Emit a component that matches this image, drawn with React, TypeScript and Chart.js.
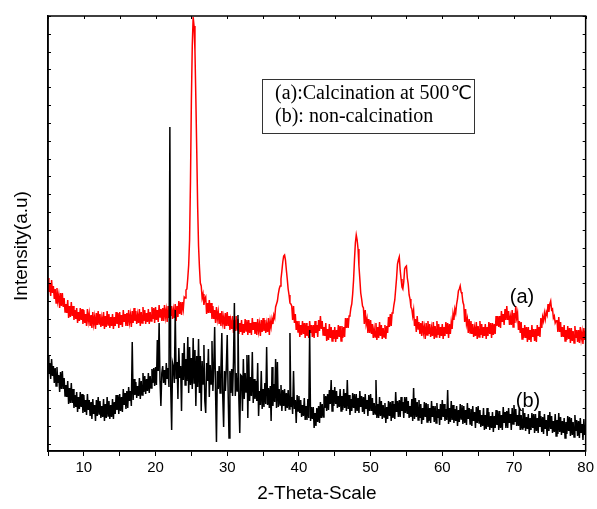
import React, { useEffect, useRef } from 'react';
import { Chart, registerables } from 'chart.js';

Chart.register(...registerables);

// 2-theta grid: 5.000 to 80.000 in 0.125 degree steps (one row per degree)
const THETA_START = 5;
const THETA_STEP = 0.125;

// (a) calcination at 500 C  (intensity, a.u.)
const calcined = [
  173, 159, 168, 155, 171, 158, 165, 152,
  162, 148, 163, 150, 156, 143, 158, 145,
  158, 144, 153, 139, 147, 138, 151, 133,
  145, 134, 149, 135, 145, 131, 141, 132,
  143, 128, 139, 130, 143, 131, 142, 127,
  141, 128, 137, 125, 142, 130, 137, 125,
  136, 123, 139, 127, 134, 122, 138, 126,
  140, 127, 137, 124, 133, 125, 139, 122,
  135, 124, 140, 126, 137, 123, 134, 125,
  137, 122, 134, 125, 139, 127, 138, 123,
  139, 126, 136, 124, 141, 129, 137, 125,
  138, 125, 141, 129, 136, 124, 140, 128,
  143, 130, 140, 127, 136, 128, 142, 125,
  139, 128, 144, 130, 141, 127, 138, 129,
  142, 127, 139, 130, 144, 132, 143, 128,
  144, 131, 141, 129, 146, 134, 142, 130,
  143, 130, 146, 134, 141, 129, 145, 133,
  148, 135, 145, 132, 141, 133, 147, 130,
  145, 134, 150, 137, 149, 136, 149, 142,
  154, 153, 161, 162, 173, 186, 211, 270,
  350, 405, 434, 425, 400, 352, 300, 245,
  205, 184, 168, 165, 153, 157, 146, 152,
  154, 137, 148, 138, 151, 138, 148, 132,
  145, 132, 141, 128, 144, 132, 139, 127,
  138, 125, 140, 128, 134, 122, 138, 125,
  139, 125, 135, 121, 130, 122, 135, 118,
  131, 120, 135, 121, 132, 117, 128, 119,
  131, 116, 127, 118, 132, 120, 131, 116,
  131, 118, 128, 116, 133, 121, 129, 117,
  129, 116, 132, 120, 127, 115, 131, 119,
  133, 120, 131, 118, 127, 119, 133, 116,
  130, 124, 132, 127, 136, 133, 144, 147,
  150, 157, 162, 165, 172, 180, 189, 195,
  196, 191, 181, 172, 162, 156, 148, 147,
  145, 131, 145, 128, 137, 121, 130, 119,
  130, 114, 126, 116, 130, 117, 128, 113,
  128, 115, 125, 113, 130, 118, 126, 114,
  126, 113, 130, 118, 126, 114, 131, 120,
  135, 122, 130, 116, 124, 115, 128, 110,
  122, 111, 127, 113, 124, 110, 121, 112,
  124, 109, 121, 112, 126, 114, 125, 110,
  125, 113, 124, 114, 133, 123, 133, 123,
  135, 136, 143, 147, 157, 171, 191, 208,
  216, 211, 202, 185, 172, 158, 152, 145,
  143, 127, 141, 127, 132, 118, 132, 118,
  131, 117, 127, 113, 122, 114, 128, 111,
  124, 113, 129, 115, 126, 112, 123, 114,
  126, 112, 125, 118, 134, 124, 137, 125,
  138, 139, 146, 151, 162, 173, 187, 191,
  194, 181, 172, 164, 162, 169, 182, 184,
  185, 173, 167, 156, 152, 144, 142, 135,
  141, 125, 132, 119, 135, 122, 129, 117,
  128, 115, 130, 118, 124, 112, 128, 116,
  130, 117, 127, 114, 123, 115, 129, 112,
  125, 114, 130, 116, 127, 113, 124, 115,
  127, 112, 124, 115, 129, 117, 128, 113,
  127, 117, 129, 122, 137, 131, 142, 138,
  147, 152, 160, 162, 165, 159, 157, 149,
  146, 129, 142, 127, 132, 118, 132, 118,
  130, 117, 127, 114, 123, 115, 129, 112,
  125, 114, 130, 116, 127, 113, 124, 115,
  127, 112, 124, 115, 129, 117, 128, 113,
  128, 116, 127, 117, 135, 125, 135, 124,
  135, 123, 140, 129, 137, 126, 142, 131,
  145, 131, 140, 126, 134, 126, 141, 124,
  138, 128, 145, 133, 138, 121, 130, 118,
  129, 112, 123, 113, 126, 113, 124, 109,
  124, 111, 121, 109, 126, 114, 122, 110,
  122, 109, 126, 115, 124, 114, 133, 123,
  134, 130, 138, 132, 139, 136, 147, 139,
  147, 150, 141, 142, 133, 135, 128, 130,
  131, 119, 134, 119, 129, 114, 124, 114,
  126, 110, 121, 111, 125, 112, 123, 108,
  123, 110, 120, 108, 125, 113, 121, 109,
  121, 108, 124, 112, 119, 107, 123, 111,
  120,
];

// (b) non-calcination (intensity, a.u.)
const nonCalcined = [
  95, 77, 88, 72, 92, 75, 85, 68,
  83, 65, 84, 68, 76, 59, 79, 62,
  80, 62, 73, 55, 66, 54, 70, 47,
  63, 48, 68, 48, 62, 43, 56, 44,
  59, 39, 54, 42, 59, 44, 57, 38,
  56, 39, 51, 36, 57, 41, 51, 35,
  49, 32, 52, 37, 46, 30, 51, 35,
  54, 37, 50, 33, 45, 34, 52, 30,
  47, 33, 54, 35, 50, 32, 46, 34,
  52, 32, 49, 37, 56, 41, 56, 37,
  57, 40, 54, 39, 62, 46, 58, 42,
  60, 43, 64, 50, 60, 45, 109, 51,
  72, 56, 69, 53, 65, 55, 73, 52,
  70, 56, 78, 59, 75, 57, 72, 60,
  78, 58, 75, 63, 82, 68, 83, 65,
  84, 66, 111, 80, 128, 70, 45, 78,
  85, 68, 81, 66, 88, 72, 83, 64,
  324, 62, 21, 88, 84, 68, 141, 72,
  89, 52, 103, 73, 85, 40, 98, 71,
  108, 66, 92, 70, 114, 58, 104, 66,
  93, 62, 113, 68, 101, 45, 95, 64,
  112, 58, 95, 40, 90, 67, 106, 50,
  38, 88, 70, 102, 54, 86, 67, 110,
  60, 84, 124, 58, 9, 80, 62, 85,
  58, 83, 118, 55, 24, 80, 60, 84,
  116, 60, 13, 80, 58, 82, 55, 90,
  148, 55, 78, 60, 136, 52, 18, 76,
  75, 40, 92, 52, 78, 59, 96, 33,
  96, 50, 74, 55, 99, 48, 72, 52,
  70, 50, 88, 35, 60, 46, 80, 42,
  62, 44, 68, 47, 104, 46, 63, 43,
  65, 30, 84, 45, 67, 49, 92, 43,
  89, 44, 62, 46, 66, 40, 61, 45,
  62, 40, 58, 43, 61, 42, 118, 44,
  54, 37, 80, 42, 51, 28, 56, 40,
  55, 38, 51, 34, 46, 35, 53, 31,
  45, 31, 52, 33, 121, 30, 44, 32,
  44, 23, 38, 25, 43, 29, 45, 28,
  49, 33, 47, 34, 57, 43, 55, 40,
  57, 41, 61, 47, 71, 40, 61, 45,
  64, 47, 60, 43, 55, 44, 62, 40,
  55, 41, 62, 43, 58, 40, 71, 42,
  56, 36, 52, 40, 58, 43, 57, 38,
  57, 40, 53, 38, 60, 44, 55, 39,
  54, 37, 57, 42, 51, 35, 56, 40,
  57, 40, 53, 36, 48, 37, 71, 33,
  47, 33, 54, 35, 50, 32, 46, 34,
  48, 28, 44, 32, 50, 35, 49, 30,
  50, 33, 47, 32, 59, 39, 50, 34,
  51, 34, 54, 40, 49, 33, 54, 38,
  54, 37, 50, 33, 45, 34, 52, 30,
  63, 32, 53, 34, 49, 31, 51, 33,
  47, 27, 43, 31, 49, 34, 48, 29,
  47, 30, 43, 28, 50, 34, 45, 29,
  45, 28, 48, 33, 42, 26, 47, 31,
  51, 34, 47, 30, 42, 31, 61, 27,
  43, 29, 50, 31, 46, 28, 42, 30,
  45, 25, 41, 29, 47, 32, 46, 27,
  45, 28, 41, 26, 48, 32, 43, 27,
  42, 25, 45, 30, 39, 23, 44, 28,
  45, 28, 41, 24, 36, 25, 43, 21,
  36, 22, 43, 24, 39, 21, 35, 23,
  39, 19, 35, 23, 41, 26, 40, 21,
  40, 23, 36, 21, 44, 28, 39, 23,
  40, 23, 43, 28, 37, 21, 43, 27,
  46, 29, 42, 25, 36, 25, 43, 21,
  36, 22, 43, 23, 38, 20, 34, 22,
  37, 17, 33, 21, 38, 23, 37, 18,
  37, 20, 33, 18, 40, 24, 35, 19,
  34, 17, 37, 22, 31, 15, 36, 20,
  39, 22, 35, 18, 30, 19, 37, 15,
  31, 17, 38, 19, 34, 16, 30, 18,
  33, 13, 29, 17, 35, 20, 34, 15,
  33, 16, 29, 14, 36, 20, 31, 15,
  30, 13, 33, 18, 27, 11, 32, 16,
  23,
];

const X_MIN = 5;
const X_MAX = 80;
const X_LABELED = [10, 20, 30, 40, 50, 60, 70, 80];
const Y_MIN = 0;
const Y_MAX = 435;
const Y_TICK_STEP = 17.83;

const X_TITLE = '2-Theta-Scale';
const Y_TITLE = 'Intensity(a.u)';
const LEGEND_LINE_A = '(a):Calcination at 500';
const LEGEND_UNIT_A = '℃';
const LEGEND_LINE_B = '(b): non-calcination';
const LABEL_A = '(a)';
const LABEL_B = '(b)';

const toPoints = (arr: number[]) =>
  arr.map((v, i) => ({ x: THETA_START + i * THETA_STEP, y: v }));

const SANS = "'Liberation Sans', Arial, sans-serif";
const SERIF = "'Liberation Serif', 'Times New Roman', serif";

const framePlugin = {
  id: 'frameAndNotes',
  afterDraw(chart: any) {
    const { ctx, chartArea, scales } = chart;
    const { left, right, top, bottom } = chartArea;
    const xs = scales.x;
    const ys = scales.y;
    ctx.save();
    ctx.strokeStyle = '#000';
    ctx.lineWidth = 1.5;
    ctx.strokeRect(left, top, right - left, bottom - top);

    ctx.lineWidth = 1;
    ctx.beginPath();
    for (let v = Y_MAX; v > Y_MIN; v -= Y_TICK_STEP) {
      const py = Math.round(ys.getPixelForValue(v)) + 0.5;
      ctx.moveTo(left, py);
      ctx.lineTo(left + 3, py);
      ctx.moveTo(right, py);
      ctx.lineTo(right - 3, py);
    }
    for (let t = X_MIN; t <= X_MAX; t += 5) {
      const px = Math.round(xs.getPixelForValue(t)) + 0.5;
      ctx.moveTo(px, top);
      ctx.lineTo(px, top + 3);
    }
    ctx.stroke();

    // y title
    ctx.save();
    ctx.translate(22, 246);
    ctx.rotate(-Math.PI / 2);
    ctx.fillStyle = '#000';
    ctx.font = `19px ${SANS}`;
    ctx.textAlign = 'center';
    ctx.textBaseline = 'middle';
    ctx.fillText(Y_TITLE, 0, 0);
    ctx.restore();

    // legend box
    ctx.strokeStyle = '#333';
    ctx.lineWidth = 1;
    ctx.strokeRect(262.5, 79.5, 212, 54);
    ctx.fillStyle = '#000';
    ctx.textAlign = 'left';
    ctx.textBaseline = 'alphabetic';
    ctx.font = `20px ${SERIF}`;
    ctx.fillText(LEGEND_LINE_A, 275, 99);
    const wA = ctx.measureText(LEGEND_LINE_A).width;
    ctx.font = `19px 'DejaVu Sans', ${SANS}`;
    ctx.fillText(LEGEND_UNIT_A, 275 + wA + 1, 99);
    ctx.font = `20px ${SERIF}`;
    ctx.fillText(LEGEND_LINE_B, 275, 122);

    // series labels
    ctx.font = `20px ${SANS}`;
    ctx.textAlign = 'center';
    ctx.textBaseline = 'middle';
    ctx.fillText(LABEL_A, 522, 297);
    ctx.fillText(LABEL_B, 528, 401);
    ctx.restore();
  },
};

export default function App() {
  const canvasRef = useRef<HTMLCanvasElement | null>(null);

  useEffect(() => {
    const canvas = canvasRef.current;
    if (!canvas) return;
    const chart = new Chart(canvas, {
      type: 'line',
      data: {
        datasets: [
          {
            label: '(b) non-calcination',
            data: toPoints(nonCalcined),
            borderColor: '#000000',
            borderWidth: 1.5,
            pointRadius: 0,
            tension: 0,
            fill: false,
          },
          {
            label: '(a) calcination at 500 ℃',
            data: toPoints(calcined),
            borderColor: '#ff0000',
            borderWidth: 1.5,
            pointRadius: 0,
            tension: 0,
            fill: false,
          },
        ],
      },
      options: {
        responsive: false,
        animation: false,
        devicePixelRatio: 1,
        layout: { padding: { top: 16, right: 10, left: 0, bottom: 0 } },
        plugins: {
          legend: { display: false },
          tooltip: { enabled: false },
        },
        scales: {
          x: {
            type: 'linear',
            position: 'bottom',
            min: X_MIN,
            max: X_MAX,
            ticks: {
              stepSize: 5,
              autoSkip: false,
              maxRotation: 0,
              color: '#000',
              padding: 3,
              font: { size: 15, family: SANS },
              callback: (v: any) => (X_LABELED.includes(Number(v)) ? String(v) : ''),
            },
            grid: {
              display: true,
              drawOnChartArea: false,
              drawTicks: true,
              tickLength: 5,
              color: '#000',
              lineWidth: 1,
            },
            border: { display: true, color: '#000', width: 1.5 },
            title: {
              display: true,
              text: X_TITLE,
              color: '#000',
              font: { size: 19, family: SANS },
              padding: { top: 0, bottom: 4 },
            },
            afterFit: (s: any) => {
              s.height = 58;
            },
          },
          y: {
            type: 'linear',
            position: 'left',
            min: Y_MIN,
            max: Y_MAX,
            ticks: { display: false },
            grid: { display: false },
            border: { display: true, color: '#000', width: 1.5 },
            afterFit: (s: any) => {
              s.width = 48;
            },
          },
        },
      } as any,
      plugins: [framePlugin],
    });
    return () => chart.destroy();
  }, []);

  return (
    <div style={{ position: 'absolute', left: 0, top: 0, width: 597, height: 509, background: '#fff' }}>
      <canvas ref={canvasRef} width={597} height={509} style={{ display: 'block' }} />
    </div>
  );
}
